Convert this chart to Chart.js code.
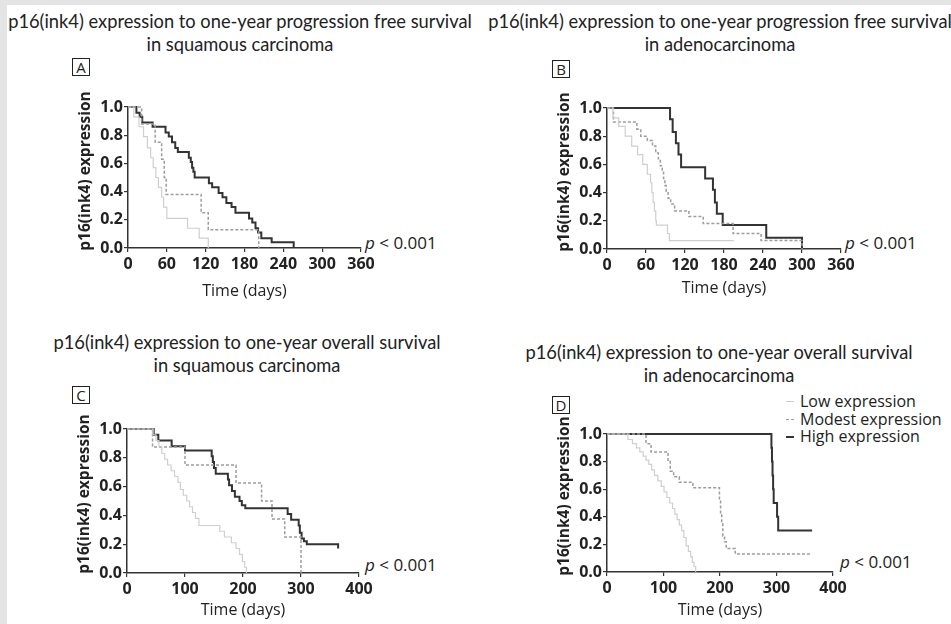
<!DOCTYPE html>
<html>
<head>
<meta charset="utf-8">
<script src="https://cdn.jsdelivr.net/npm/chart.js@4.4.1/dist/chart.umd.min.js"></script>
<style>
  body { margin:0; width:951px; height:624px; background:#e4e4e4; position:relative; overflow:hidden; font-family:"Open Sans", sans-serif; color:#222; }
  #sheet { position:absolute; left:7px; top:5px; width:944px; height:619px; background:#fff; }
  .title { position:absolute; font-family:Lato, "Open Sans", sans-serif; font-size:16px; line-height:23px; text-align:center; white-space:nowrap; transform:translateX(-50%); }
  .tag { position:absolute; width:16px; height:16px; border:1.5px solid #222; font-size:15px; line-height:16px; text-align:center; }
  .pval { position:absolute; font-size:17px; line-height:20px; white-space:nowrap; }
  .ytitle { position:absolute; font-size:15.5px; font-weight:bold; line-height:20px; white-space:nowrap; transform:translate(-50%, -50%) rotate(-90deg); }
  .legend { position:absolute; left:784px; top:393px; font-size:16px; line-height:17.5px; }
  .legend div { position:relative; padding-left:16px; white-space:nowrap; }
  .legend span { position:absolute; left:2px; top:8px; width:8px; height:0; }
  canvas { position:absolute; }
</style>
</head>
<body>
<div id="sheet"></div>

<div class="title" style="left:240px; top:10px;"><span id="refLine">p16(ink4) expression to one-year progression free survival</span><br>in squamous carcinoma</div>
<div class="title" style="left:720px; top:10px;">p16(ink4) expression to one-year progression free survival<br>in adenocarcinoma</div>
<div class="title" style="left:247px; top:331px;">p16(ink4) expression to one-year overall survival<br>in squamous carcinoma</div>
<div class="title" style="left:719px; top:341px;">p16(ink4) expression to one-year overall survival<br>in adenocarcinoma</div>

<div class="tag" style="left:72px; top:58px;">A</div>
<div class="tag" style="left:552px; top:60px;">B</div>
<div class="tag" style="left:72px; top:386px;">C</div>
<div class="tag" style="left:552px; top:396px;">D</div>

<div class="pval" style="left:365px; top:233px;"><i>p</i> &lt; 0.001</div>
<div class="pval" style="left:845px; top:233px;"><i>p</i> &lt; 0.001</div>
<div class="pval" style="left:365px; top:555px;"><i>p</i> &lt; 0.001</div>
<div class="pval" style="left:840px; top:552px;"><i>p</i> &lt; 0.001</div>

<div class="legend" id="legend"></div>

<canvas id="chartA"></canvas>
<canvas id="chartB"></canvas>
<canvas id="chartC"></canvas>
<canvas id="chartD"></canvas>

<script>
// ======================================
// DADOS
// ======================================

const groupNames = ["Low expression", "Modest expression", "High expression"];
const yAxisTitle = "p16(ink4) expression";
const xAxisTitle = "Time (days)";

const pfsTicks = [0, 60, 120, 180, 240, 300, 360];
const osTicks = [0, 100, 200, 300, 400];
const survTicks = [0, 0.2, 0.4, 0.6, 0.8, 1.0];

// A - progression free survival, squamous carcinoma
const aLowDays = [0, 9, 17, 24, 30, 35, 39, 43, 47, 52, 55, 60, 92, 110, 124];
const aLowSurv = [1, 0.93, 0.86, 0.79, 0.71, 0.64, 0.57, 0.5, 0.43, 0.36, 0.29, 0.21, 0.14, 0.07, 0];
const aModDays = [0, 21, 42, 52, 56, 59, 113, 124, 202];
const aModSurv = [1, 0.88, 0.75, 0.63, 0.5, 0.38, 0.25, 0.13, 0];
const aHighDays = [0, 13, 18, 22, 38, 58, 63, 68, 73, 77, 94, 97, 99, 101, 103, 125, 130, 140, 146, 152, 160, 166, 187, 192, 197, 201, 206, 222, 256];
const aHighSurv = [1, 0.96, 0.93, 0.89, 0.86, 0.82, 0.79, 0.75, 0.71, 0.68, 0.64, 0.61, 0.57, 0.54, 0.5, 0.46, 0.43, 0.39, 0.36, 0.32, 0.29, 0.25, 0.21, 0.18, 0.14, 0.11, 0.07, 0.04, 0];

// B - progression free survival, adenocarcinoma
const bLowDays = [0, 9, 18, 28, 38, 47, 55, 62, 67, 69, 71, 73, 75, 76, 93, 96, 195];
const bLowSurv = [1, 0.93, 0.87, 0.8, 0.73, 0.67, 0.6, 0.53, 0.47, 0.4, 0.33, 0.27, 0.2, 0.17, 0.11, 0.06, 0.06];
const bModDays = [0, 10, 46, 52, 62, 70, 75, 79, 82, 85, 87, 89, 91, 94, 98, 104, 126, 148, 194, 237, 300];
const bModSurv = [1, 0.9, 0.85, 0.8, 0.77, 0.73, 0.68, 0.64, 0.59, 0.55, 0.5, 0.45, 0.41, 0.36, 0.32, 0.27, 0.23, 0.18, 0.11, 0.06, 0];
const bHighDays = [0, 97, 101, 106, 110, 114, 151, 163, 166, 169, 178, 245, 300];
const bHighSurv = [1, 0.92, 0.83, 0.75, 0.67, 0.58, 0.5, 0.42, 0.33, 0.25, 0.17, 0.08, 0];

// C - overall survival, squamous carcinoma
const cLowDays = [0, 45, 50, 55, 60, 65, 70, 76, 82, 88, 92, 97, 103, 108, 113, 118, 124, 160, 168, 180, 188, 194, 199, 203, 206];
const cLowSurv = [1, 0.96, 0.92, 0.88, 0.83, 0.79, 0.75, 0.71, 0.67, 0.63, 0.58, 0.54, 0.5, 0.46, 0.42, 0.38, 0.33, 0.29, 0.25, 0.21, 0.17, 0.13, 0.08, 0.04, 0];
const cModDays = [0, 44, 100, 188, 232, 250, 272, 300];
const cModSurv = [1, 0.875, 0.75, 0.625, 0.5, 0.375, 0.25, 0];
const cHighDays = [0, 46, 54, 77, 100, 146, 148, 150, 153, 174, 176, 181, 186, 194, 198, 204, 277, 283, 296, 298, 301, 305, 310, 363, 364];
const cHighSurv = [1, 0.96, 0.92, 0.88, 0.85, 0.81, 0.77, 0.73, 0.69, 0.65, 0.61, 0.57, 0.53, 0.5, 0.47, 0.45, 0.41, 0.37, 0.33, 0.28, 0.24, 0.22, 0.2, 0.2, 0.17];

// D - overall survival, adenocarcinoma
const dLowDays = [0, 37, 45, 52, 58, 64, 69, 74, 79, 84, 90, 96, 101, 106, 111, 116, 120, 124, 128, 132, 136, 140, 144, 148, 151, 154, 157];
const dLowSurv = [1, 0.96, 0.93, 0.9, 0.87, 0.84, 0.81, 0.78, 0.74, 0.7, 0.66, 0.62, 0.58, 0.54, 0.5, 0.46, 0.42, 0.38, 0.34, 0.3, 0.25, 0.19, 0.15, 0.11, 0.07, 0.04, 0];
const dModDays = [0, 69, 78, 108, 112, 118, 128, 152, 199, 201, 203, 205, 208, 211, 227, 363];
const dModSurv = [1, 0.93, 0.87, 0.8, 0.73, 0.69, 0.65, 0.61, 0.52, 0.43, 0.35, 0.26, 0.22, 0.17, 0.13, 0.13];
const dHighDays = [0, 291, 292, 293, 294, 295, 301, 303, 363];
const dHighSurv = [1, 0.9, 0.8, 0.7, 0.6, 0.5, 0.4, 0.3, 0.3];


// ======================================
// ESTILOS
// ======================================

const lineStyles = [
    { borderColor: "#cfcfcf", borderWidth: 1.2, borderDash: [] },
    { borderColor: "#9d9d9d", borderWidth: 1.5, borderDash: [3, 2] },
    { borderColor: "#333333", borderWidth: 2, borderDash: [] }
];

const fontTicks = { family: "Open Sans", size: 16, weight: "bold" };
const fontTitle = { family: "Open Sans", size: 16 };


// ======================================
// TÍTULOS: mesma largura da figura
// ======================================

const refLine = document.getElementById("refLine");
const titleSize = 16 * 464 / refLine.getBoundingClientRect().width;

document.querySelectorAll(".title").forEach(t => {
    t.style.fontSize = titleSize.toFixed(2) + "px";
});


// ======================================
// PAINÉIS
// ======================================

function toPoints(days, surv) {
    return days.map((d, i) => ({ x: d, y: surv[i] }));
}

function drawPanel(id, area, xTicks, groups, xTitleGap) {

    const canvas = document.getElementById(id);
    const w = area.right - area.left + 70 + 22;
    const h = area.bottom - area.top + 12 + 62;

    canvas.width = w;
    canvas.height = h;
    canvas.style.left = (area.left - 70) + "px";
    canvas.style.top = (area.top - 12) + "px";

    // título do eixo y (rotacionado, um pouco acima do centro como na figura)
    const yt = document.createElement("div");
    yt.className = "ytitle";
    yt.textContent = yAxisTitle;
    yt.style.left = (area.left - 44) + "px";
    yt.style.top = ((area.top + area.bottom) / 2 - 7) + "px";
    document.body.appendChild(yt);

    new Chart(canvas, {

        type: "line",

        data: {
            datasets: groups.map((g, i) => ({
                label: groupNames[i],
                data: toPoints(g[0], g[1]),
                borderColor: lineStyles[i].borderColor,
                borderWidth: lineStyles[i].borderWidth,
                borderDash: lineStyles[i].borderDash,
                stepped: "before",
                pointRadius: 0,
                fill: false,
                clip: false
            }))
        },

        options: {
            responsive: false,
            animation: false,
            devicePixelRatio: 1,
            layout: { padding: { left: 0, right: 22, top: 12, bottom: 0 } },
            plugins: {
                legend: { display: false },
                tooltip: { enabled: false }
            },
            scales: {
                x: {
                    type: "linear",
                    min: 0,
                    max: xTicks[xTicks.length - 1],
                    afterBuildTicks: s => { s.ticks = xTicks.map(v => ({ value: v })); },
                    afterFit: s => { s.height = 62; },
                    grid: { drawOnChartArea: false, drawTicks: true, tickLength: 4, color: "#333", lineWidth: 1.2 },
                    border: { display: true, color: "#333", width: 1.5 },
                    ticks: { color: "#222", font: fontTicks, padding: 3, maxRotation: 0, autoSkip: false },
                    title: {
                        display: true,
                        text: xAxisTitle,
                        color: "#222",
                        font: fontTitle,
                        padding: { top: 0, bottom: 62 - xTitleGap - 9.6 }
                    }
                },
                y: {
                    min: 0,
                    max: 1,
                    afterBuildTicks: s => { s.ticks = survTicks.map(v => ({ value: v })); },
                    afterFit: s => { s.width = 70; },
                    grid: { drawOnChartArea: false, drawTicks: true, tickLength: 4, color: "#333", lineWidth: 1.2 },
                    border: { display: true, color: "#333", width: 1.5 },
                    ticks: { color: "#222", font: fontTicks, padding: 1, callback: v => v.toFixed(1) },
                    title: { display: false }
                }
            }
        }

    });

}

drawPanel("chartA", { left: 128, right: 361, top: 107, bottom: 248 }, pfsTicks,
    [[aLowDays, aLowSurv], [aModDays, aModSurv], [aHighDays, aHighSurv]], 43);

drawPanel("chartB", { left: 607, right: 841, top: 108, bottom: 249 }, pfsTicks,
    [[bLowDays, bLowSurv], [bModDays, bModSurv], [bHighDays, bHighSurv]], 39);

drawPanel("chartC", { left: 127, right: 359, top: 429, bottom: 573 }, osTicks,
    [[cLowDays, cLowSurv], [cModDays, cModSurv], [cHighDays, cHighSurv]], 37);

drawPanel("chartD", { left: 607, right: 833, top: 434, bottom: 572 }, osTicks,
    [[dLowDays, dLowSurv], [dModDays, dModSurv], [dHighDays, dHighSurv]], 38);


// ======================================
// LEGENDA (painel D)
// ======================================

const legend = document.getElementById("legend");

groupNames.forEach((name, i) => {

    const row = document.createElement("div");
    const mark = document.createElement("span");

    const st = lineStyles[i];
    mark.style.borderTop = st.borderWidth + "px " + (st.borderDash.length ? "dashed " : "solid ") + st.borderColor;

    row.appendChild(mark);
    row.appendChild(document.createTextNode(name));
    legend.appendChild(row);

});
</script>
</body>
</html>
